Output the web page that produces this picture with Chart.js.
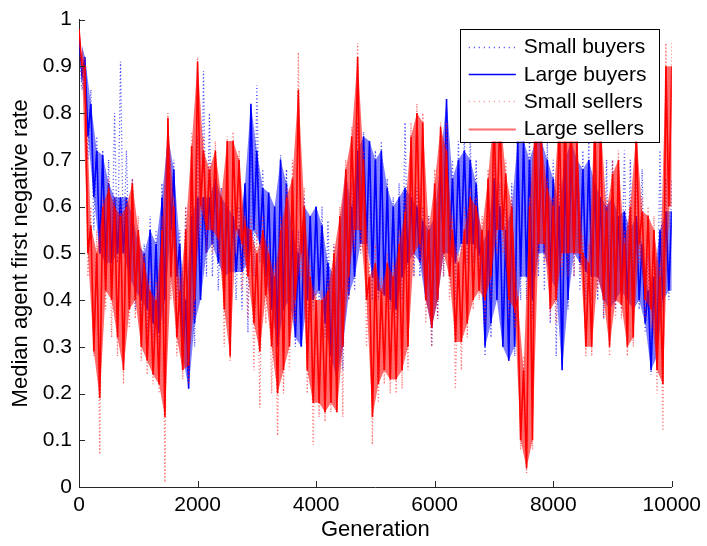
<!DOCTYPE html>
<html>
<head>
<meta charset="utf-8">
<script src="https://cdn.jsdelivr.net/npm/chart.js@4.4.1/dist/chart.umd.min.js"></script>
<style>
html, body { margin: 0; padding: 0; background: #ffffff; }
canvas { display: block; }
</style>
</head>
<body>
<canvas id="chart" width="707" height="546"></canvas>
<script>
// Tick values and labels
const xTicks = [0, 2000, 4000, 6000, 8000, 10000];
const xTickLabels = ['0', '2000', '4000', '6000', '8000', '10000'];
const yTicks = [0, 0.1, 0.2, 0.3, 0.4, 0.5, 0.6, 0.7, 0.8, 0.9, 1];
const yTickLabels = ['0', '0.1', '0.2', '0.3', '0.4', '0.5', '0.6', '0.7', '0.8', '0.9', '1'];

const seriesNames = ['Small buyers', 'Large buyers', 'Small sellers', 'Large sellers'];

// Generations per bin; each bin holds the high and low of the median rate
const binWidth = 100;

const smallBuyersHigh = [
  0.95,0.90,0.85,0.75,0.72,0.70,0.80,0.91,0.72,0.66,
  0.55,0.52,0.58,0.55,0.65,0.79,0.70,0.55,0.60,0.62,
  0.75,0.89,0.80,0.68,0.64,0.66,0.60,0.60,0.62,0.80,
  0.86,0.68,0.62,0.60,0.71,0.68,0.60,0.55,0.62,0.55,
  0.60,0.60,0.57,0.52,0.55,0.64,0.65,0.78,0.76,0.73,
  0.72,0.74,0.66,0.62,0.65,0.78,0.66,0.64,0.60,0.58,
  0.62,0.75,0.80,0.70,0.74,0.76,0.75,0.70,0.55,0.60,
  0.72,0.65,0.60,0.65,0.78,0.78,0.75,0.78,0.78,0.74,
  0.70,0.65,0.74,0.78,0.75,0.72,0.75,0.68,0.74,0.70,
  0.70,0.68,0.72,0.70,0.70,0.68,0.50,0.52,0.72,0.66
];
const smallBuyersLow = [
  0.85,0.70,0.55,0.50,0.45,0.45,0.48,0.50,0.45,0.38,
  0.36,0.33,0.32,0.30,0.35,0.50,0.40,0.30,0.26,0.30,
  0.40,0.45,0.45,0.42,0.40,0.42,0.40,0.38,0.33,0.45,
  0.48,0.42,0.38,0.30,0.35,0.38,0.30,0.30,0.35,0.38,
  0.40,0.32,0.30,0.22,0.25,0.40,0.42,0.50,0.48,0.40,
  0.40,0.42,0.38,0.36,0.40,0.45,0.45,0.45,0.40,0.30,
  0.36,0.45,0.46,0.40,0.50,0.48,0.48,0.45,0.28,0.32,
  0.40,0.30,0.27,0.28,0.40,0.40,0.36,0.45,0.42,0.35,
  0.28,0.26,0.38,0.45,0.42,0.40,0.40,0.40,0.36,0.35,
  0.38,0.38,0.38,0.36,0.38,0.33,0.24,0.26,0.38,0.40
];

const largeBuyersHigh = [
  0.97,0.92,0.82,0.72,0.71,0.65,0.62,0.62,0.62,0.58,
  0.52,0.50,0.55,0.52,0.62,0.75,0.68,0.52,0.40,0.58,
  0.62,0.62,0.62,0.66,0.62,0.60,0.58,0.55,0.65,0.82,
  0.72,0.64,0.63,0.60,0.70,0.65,0.55,0.50,0.60,0.58,
  0.60,0.56,0.48,0.45,0.55,0.67,0.60,0.72,0.75,0.74,
  0.70,0.72,0.64,0.60,0.62,0.64,0.62,0.60,0.57,0.55,
  0.58,0.70,0.83,0.66,0.70,0.72,0.70,0.65,0.52,0.55,
  0.66,0.60,0.55,0.60,0.74,0.74,0.70,0.74,0.74,0.70,
  0.66,0.60,0.70,0.74,0.70,0.68,0.70,0.65,0.62,0.60,
  0.62,0.58,0.59,0.55,0.58,0.52,0.42,0.45,0.55,0.59
];
const largeBuyersLow = [
  0.88,0.75,0.62,0.50,0.48,0.48,0.50,0.50,0.45,0.42,
  0.40,0.38,0.35,0.33,0.40,0.55,0.45,0.28,0.21,0.35,
  0.40,0.50,0.52,0.48,0.45,0.46,0.46,0.46,0.48,0.55,
  0.52,0.45,0.38,0.30,0.38,0.40,0.32,0.30,0.40,0.40,
  0.42,0.35,0.28,0.23,0.30,0.41,0.45,0.52,0.52,0.45,
  0.42,0.41,0.40,0.38,0.45,0.48,0.50,0.48,0.40,0.34,
  0.40,0.50,0.50,0.48,0.52,0.52,0.52,0.50,0.30,0.35,
  0.40,0.30,0.27,0.30,0.45,0.45,0.40,0.50,0.50,0.45,
  0.42,0.25,0.40,0.50,0.48,0.46,0.45,0.45,0.40,0.38,
  0.40,0.42,0.40,0.38,0.40,0.35,0.25,0.28,0.40,0.42
];

const smallSellersHigh = [
  0.98,0.92,0.60,0.55,0.62,0.66,0.62,0.60,0.62,0.66,
  0.58,0.50,0.46,0.44,0.58,0.80,0.62,0.45,0.60,0.76,
  0.92,0.75,0.70,0.74,0.64,0.75,0.76,0.72,0.58,0.58,
  0.55,0.58,0.52,0.48,0.58,0.64,0.70,0.93,0.64,0.48,
  0.42,0.42,0.45,0.52,0.60,0.70,0.77,0.95,0.72,0.48,
  0.52,0.45,0.50,0.48,0.55,0.62,0.78,0.82,0.80,0.58,
  0.68,0.78,0.78,0.58,0.50,0.60,0.64,0.62,0.58,0.68,
  0.82,0.82,0.70,0.62,0.42,0.28,0.62,0.82,0.76,0.66,
  0.62,0.82,0.82,0.80,0.76,0.54,0.52,0.82,0.80,0.62,
  0.70,0.72,0.55,0.62,0.78,0.62,0.60,0.58,0.48,0.95
];
const smallSellersLow = [
  0.88,0.45,0.28,0.07,0.38,0.32,0.28,0.22,0.34,0.36,
  0.27,0.24,0.22,0.20,0.01,0.40,0.28,0.23,0.22,0.36,
  0.55,0.50,0.50,0.50,0.30,0.27,0.50,0.42,0.36,0.25,
  0.17,0.35,0.20,0.11,0.20,0.25,0.35,0.45,0.20,0.09,
  0.15,0.14,0.16,0.16,0.15,0.40,0.50,0.50,0.30,0.09,
  0.18,0.22,0.20,0.20,0.21,0.25,0.45,0.48,0.35,0.30,
  0.36,0.45,0.40,0.21,0.25,0.32,0.38,0.40,0.35,0.40,
  0.50,0.50,0.36,0.34,0.08,0.03,0.08,0.48,0.48,0.36,
  0.35,0.45,0.45,0.45,0.46,0.28,0.28,0.42,0.36,0.28,
  0.36,0.36,0.28,0.30,0.48,0.36,0.34,0.20,0.12,0.55
];

const largeSellersHigh = [
  0.98,0.90,0.56,0.50,0.60,0.64,0.60,0.58,0.60,0.65,
  0.55,0.48,0.42,0.40,0.55,0.79,0.60,0.42,0.55,0.73,
  0.91,0.72,0.68,0.72,0.62,0.74,0.74,0.70,0.56,0.55,
  0.50,0.55,0.50,0.45,0.55,0.62,0.66,0.85,0.60,0.45,
  0.40,0.40,0.42,0.50,0.58,0.68,0.75,0.92,0.70,0.45,
  0.48,0.42,0.48,0.45,0.52,0.59,0.75,0.80,0.78,0.55,
  0.65,0.77,0.72,0.55,0.48,0.55,0.62,0.60,0.55,0.66,
  0.80,0.80,0.67,0.60,0.40,0.25,0.60,0.80,0.74,0.64,
  0.60,0.80,0.80,0.78,0.74,0.50,0.48,0.80,0.78,0.59,
  0.67,0.70,0.52,0.60,0.76,0.59,0.58,0.55,0.45,0.90
];
const largeSellersLow = [
  0.90,0.50,0.29,0.19,0.42,0.40,0.32,0.25,0.38,0.40,
  0.30,0.27,0.24,0.22,0.15,0.45,0.32,0.25,0.26,0.40,
  0.60,0.55,0.55,0.53,0.38,0.28,0.55,0.52,0.45,0.35,
  0.29,0.41,0.30,0.20,0.25,0.30,0.40,0.50,0.25,0.18,
  0.18,0.16,0.18,0.16,0.30,0.45,0.55,0.55,0.40,0.15,
  0.22,0.25,0.23,0.23,0.25,0.30,0.50,0.52,0.40,0.34,
  0.40,0.50,0.45,0.31,0.31,0.35,0.40,0.42,0.40,0.45,
  0.55,0.55,0.40,0.38,0.10,0.04,0.10,0.52,0.52,0.38,
  0.40,0.50,0.50,0.50,0.50,0.30,0.30,0.45,0.40,0.30,
  0.40,0.39,0.30,0.32,0.52,0.40,0.38,0.25,0.22,0.60
];

// Alternate each bin's high and low so the trace sweeps the whole band
function band(high, low) {
  const pts = [];
  for (let i = 0; i < high.length; i++) {
    pts.push({ x: i * binWidth, y: high[i] });
    pts.push({ x: i * binWidth + binWidth / 2, y: low[i] });
  }
  pts.push({ x: high.length * binWidth, y: high[high.length - 1] });
  return pts;
}

// One edge of a band (bin highs or bin lows) for shading between them
function edge(values, shift) {
  const pts = values.map((v, i) => ({ x: i * binWidth + shift, y: v }));
  pts.push({ x: values.length * binWidth, y: values[values.length - 1] });
  return pts;
}

const FONT = "'Liberation Sans', Arial, Helvetica, sans-serif";
const AXIS_COLOR = '#262626';
const BLUE = '#0000ff';
const RED = '#ff0000';

const legendStyles = [
  { color: '#3c3cff', dash: [1, 4], width: 1.3 },
  { color: BLUE, dash: [], width: 1.3 },
  { color: '#ff8c8c', dash: [1, 4], width: 1.3 },
  { color: '#ff6a6a', dash: [], width: 2.2 }
];

// Inward tick marks on the left and bottom axes
const innerTicks = {
  id: 'innerTicks',
  afterDatasetsDraw(chart) {
    const { ctx, chartArea, scales } = chart;
    ctx.save();
    ctx.strokeStyle = AXIS_COLOR;
    ctx.lineWidth = 1;
    ctx.beginPath();
    xTicks.forEach(v => {
      const px = Math.round(scales.x.getPixelForValue(v)) + 0.5;
      ctx.moveTo(px, chartArea.bottom);
      ctx.lineTo(px, chartArea.bottom - 6);
    });
    yTicks.forEach(v => {
      const py = Math.round(scales.y.getPixelForValue(v)) + 0.5;
      ctx.moveTo(chartArea.left, py);
      ctx.lineTo(chartArea.left + 6, py);
    });
    ctx.stroke();
    ctx.restore();
  }
};

// Boxed legend in the upper right corner of the plot
const boxLegend = {
  id: 'boxLegend',
  afterDatasetsDraw(chart) {
    const { ctx, chartArea } = chart;
    const w = 199, h = 113;
    const left = chartArea.right - 13 - w;
    const top = chartArea.top + 9;
    ctx.save();
    ctx.fillStyle = '#ffffff';
    ctx.fillRect(left, top, w, h);
    ctx.strokeStyle = '#000000';
    ctx.lineWidth = 1;
    ctx.strokeRect(Math.round(left) + 0.5, Math.round(top) + 0.5, w, h);
    ctx.font = '21px ' + FONT;
    ctx.textBaseline = 'middle';
    ctx.textAlign = 'left';
    seriesNames.forEach((name, i) => {
      const y = top + 18 + i * 27.3;
      const st = legendStyles[i];
      ctx.beginPath();
      ctx.setLineDash(st.dash);
      ctx.strokeStyle = st.color;
      ctx.lineWidth = st.width;
      ctx.moveTo(left + 9, Math.round(y) + 0.5);
      ctx.lineTo(left + 56, Math.round(y) + 0.5);
      ctx.stroke();
      ctx.setLineDash([]);
      ctx.fillStyle = '#000000';
      ctx.fillText(name, left + 64, y + 1);
    });
    ctx.restore();
  }
};

new Chart(document.getElementById('chart'), {
  type: 'line',
  data: {
    datasets: [
      {
        label: seriesNames[0],
        data: band(smallBuyersHigh, smallBuyersLow),
        borderColor: 'rgba(40,40,255,0.85)',
        borderWidth: 1.3,
        borderDash: [1, 2.5],
        order: 4
      },
      {
        label: seriesNames[1] + ' high',
        data: edge(largeBuyersHigh, 0),
        borderWidth: 0,
        fill: false,
        order: 3
      },
      {
        label: seriesNames[1] + ' low',
        data: edge(largeBuyersLow, binWidth / 2),
        borderWidth: 0,
        fill: '-1',
        backgroundColor: 'rgba(0,0,255,0.5)',
        order: 3
      },
      {
        label: seriesNames[1],
        data: band(largeBuyersHigh, largeBuyersLow),
        borderColor: BLUE,
        borderWidth: 1.6,
        order: 2
      },
      {
        label: seriesNames[2],
        data: band(smallSellersHigh, smallSellersLow),
        borderColor: 'rgba(255,40,40,0.7)',
        borderWidth: 1.3,
        borderDash: [1, 2.5],
        order: 1.5
      },
      {
        label: seriesNames[3] + ' high',
        data: edge(largeSellersHigh, 0),
        borderWidth: 0,
        fill: false,
        order: 1
      },
      {
        label: seriesNames[3] + ' low',
        data: edge(largeSellersLow, binWidth / 2),
        borderWidth: 0,
        fill: '-1',
        backgroundColor: 'rgba(255,0,0,0.58)',
        order: 1
      },
      {
        label: seriesNames[3],
        data: band(largeSellersHigh, largeSellersLow),
        borderColor: RED,
        borderWidth: 1.6,
        order: 0
      }
    ]
  },
  options: {
    responsive: false,
    animation: false,
    devicePixelRatio: 1,
    events: [],
    elements: {
      point: { radius: 0 },
      line: { tension: 0, fill: false, borderJoinStyle: 'miter' }
    },
    layout: { padding: { top: 17, right: 33, left: 0, bottom: 0 } },
    plugins: {
      legend: { display: false },
      tooltip: { enabled: false },
      filler: { propagate: false }
    },
    scales: {
      x: {
        type: 'linear',
        min: 0,
        max: 10000,
        afterFit(scale) { scale.height = 59; },
        afterBuildTicks(scale) { scale.ticks = xTicks.map(v => ({ value: v })); },
        grid: { display: false, drawTicks: false },
        border: { display: true, color: AXIS_COLOR, width: 1 },
        ticks: {
          padding: 6,
          maxRotation: 0,
          autoSkip: false,
          color: '#000000',
          font: { family: FONT, size: 21 },
          callback: (v) => xTickLabels[xTicks.indexOf(v)]
        },
        title: {
          display: true,
          text: 'Generation',
          color: '#000000',
          font: { family: FONT, size: 22 },
          padding: { top: 0, bottom: 3 }
        }
      },
      y: {
        type: 'linear',
        min: 0,
        max: 1,
        afterFit(scale) { scale.width = 79; },
        afterBuildTicks(scale) { scale.ticks = yTicks.map(v => ({ value: v })); },
        grid: { display: false, drawTicks: false },
        border: { display: true, color: AXIS_COLOR, width: 1 },
        ticks: {
          padding: 7,
          autoSkip: false,
          color: '#000000',
          font: { family: FONT, size: 21 },
          callback: (v, i) => yTickLabels[i]
        },
        title: {
          display: true,
          text: 'Median agent first negative rate',
          color: '#000000',
          font: { family: FONT, size: 22 },
          padding: { top: 8, bottom: 0 }
        }
      }
    }
  },
  plugins: [innerTicks, boxLegend]
});
</script>
</body>
</html>
